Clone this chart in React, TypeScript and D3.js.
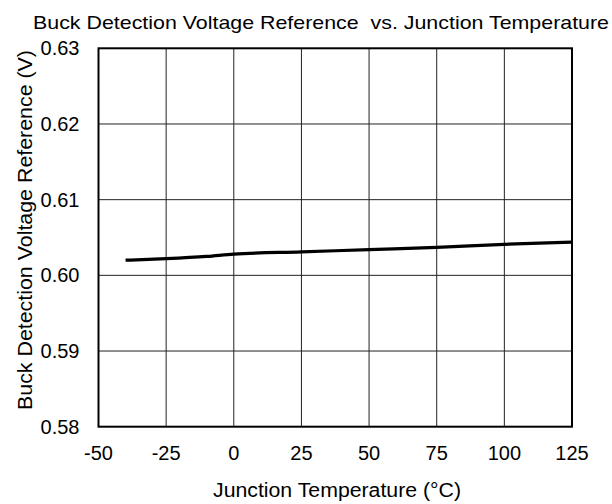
import React from "react";
import * as d3 from "d3";

const temps = [-40, -25, -10, 0, 25, 50, 75, 100, 125];
const vref = [0.602, 0.6022, 0.6025, 0.6028, 0.6031, 0.6034, 0.6037, 0.6041, 0.6044];
const xTicks = [-50, -25, 0, 25, 50, 75, 100, 125];
const yTicks = [0.58, 0.59, 0.6, 0.61, 0.62, 0.63];
const title = "Buck Detection Voltage Reference  vs. Junction Temperature";
const xLabel = "Junction Temperature (\u00B0C)";
const yLabel = "Buck Detection Voltage Reference (V)";

const W = 612;
const H = 504;
const M = { left: 98.5, right: 572, top: 48.3, bottom: 426.7 };
const FONT = "'Liberation Sans', Arial, sans-serif";

export default function App() {
  const x = d3.scaleLinear().domain([-50, 125]).range([M.left, M.right]);
  const y = d3.scaleLinear().domain([0.58, 0.63]).range([M.bottom, M.top]);
  const pts: [number, number][] = temps.map((t, i) => [t, vref[i]]);
  const line = d3
    .line<[number, number]>()
    .x((d) => x(d[0]))
    .y((d) => y(d[1]))
    .curve(d3.curveMonotoneX);

  return (
    <svg
      width={W}
      height={H}
      style={{ position: "absolute", left: 0, top: 0, background: "#fff" }}
      fontFamily={FONT}
    >
      <rect x={0} y={0} width={W} height={H} fill="#fff" />
      {xTicks.slice(1, -1).map((t) => (
        <line key={"gx" + t} x1={x(t)} x2={x(t)} y1={M.top} y2={M.bottom} stroke="#222" strokeWidth={1} />
      ))}
      {yTicks.slice(1, -1).map((t) => (
        <line key={"gy" + t} x1={M.left} x2={M.right} y1={y(t)} y2={y(t)} stroke="#222" strokeWidth={1} />
      ))}
      <rect
        x={M.left}
        y={M.top}
        width={M.right - M.left}
        height={M.bottom - M.top}
        fill="none"
        stroke="#000"
        strokeWidth={2}
      />
      <path d={line(pts) || ""} fill="none" stroke="#000" strokeWidth={3.2} strokeLinecap="butt" />
      {xTicks.map((t) => (
        <text key={"xt" + t} x={x(t)} y={460} textAnchor="middle" fontSize={20} fill="#000">
          {t}
        </text>
      ))}
      {yTicks.map((t) => (
        <text key={"yt" + t} x={79.5} y={y(t) + 7} textAnchor="end" fontSize={20} fill="#000">
          {t.toFixed(2)}
        </text>
      ))}
      <text
        x={33}
        y={28.5}
        fontSize={19}
        fill="#000"
        textLength={576}
        lengthAdjust="spacingAndGlyphs"
        style={{ whiteSpace: "pre" }}
      >
        {title}
      </text>
      <text x={213} y={496.5} fontSize={20} fill="#000" textLength={248} lengthAdjust="spacingAndGlyphs">
        {xLabel}
      </text>
      <text
        transform={`translate(32,410) rotate(-90)`}
        fontSize={20}
        fill="#000"
        textLength={360}
        lengthAdjust="spacingAndGlyphs"
      >
        {yLabel}
      </text>
    </svg>
  );
}
